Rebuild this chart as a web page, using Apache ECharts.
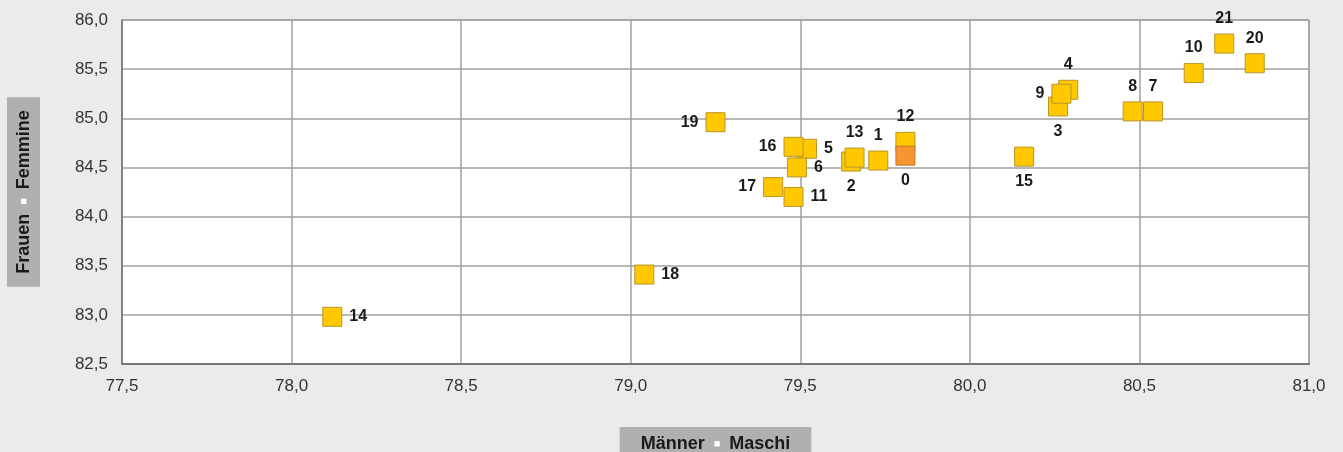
<!DOCTYPE html>
<html>
<head>
<meta charset="utf-8">
<script src="https://cdn.jsdelivr.net/npm/echarts@6/dist/echarts.min.js"></script>
<style>
html,body{margin:0;padding:0;background:#ebebeb;}
#c{width:1343px;height:452px;}
</style>
</head>
<body>
<div id="c"></div>
<script>
// Data (draw order: later items on top)
var pointLabels = ['14','18','19','17','11','5','16','6','2','13','1','12','15','3','4','9','8','7','10','21','20'];
var maleValues   = [78.12,79.04,79.25,79.42,79.48,79.52,79.48,79.49,79.65,79.66,79.73,79.81,80.16,80.26,80.29,80.27,80.48,80.54,80.66,80.75,80.84];
var femaleValues = [82.98,83.41,84.96,84.30,84.20,84.69,84.71,84.50,84.56,84.60,84.57,84.76,84.61,85.12,85.29,85.25,85.07,85.07,85.46,85.76,85.56];
var labelSides   = ['right','right','left','left','right','right','left','right','bottom','top','top','top','bottom','bottom','top','left','top','top','top','top','top'];
var refLabel = '0';
var refMale = 79.81;
var refFemale = 84.62;
var xTicks = {min:77.5, max:81.0, step:0.5};
var yTicks = {min:82.5, max:86.0, step:0.5};

var pts = pointLabels.map(function(l,i){
  return {value:[maleValues[i],femaleValues[i]], name:l, label:{position:labelSides[i]}};
});

var fmt = function(v){return v.toFixed(1).replace('.',',');};
var font = 'Liberation Sans, Arial, sans-serif';
var labelStyle = {show:true, formatter:function(p){return p.name;}, color:'#1a1a1a', fontSize:16, fontWeight:'bold', fontFamily:font, distance:7};
var titleRich = {
  a:{fontSize:18, fontWeight:'bold', color:'#1a1a1a', fontFamily:font},
  s:{fontSize:11, color:'#ffffff', padding:[0,9,0,9]}
};

var chart = echarts.init(document.getElementById('c'));
chart.setOption({
  backgroundColor:'#ebebeb',
  animation:false,
  grid:{left:122, right:34, top:20, bottom:88, containLabel:false, outerBoundsMode:'none',
    show:true, backgroundColor:'#ffffff', borderColor:'#888', borderWidth:1},
  xAxis:{
    type:'value', min:xTicks.min, max:xTicks.max, interval:xTicks.step,
    axisLine:{show:true, onZero:false, lineStyle:{color:'#777', width:2}},
    axisTick:{show:false},
    splitLine:{show:true, lineStyle:{color:'#a0a0a0', width:1.5}},
    axisLabel:{formatter:fmt, color:'#333', fontSize:17, fontFamily:font, margin:14},
    name:'{a|Männer}{s|■}{a|Maschi}', nameLocation:'middle', nameGap:63,
    nameTextStyle:{backgroundColor:'#b0b0b0', padding:[8,21,10,21], rich:titleRich}
  },
  yAxis:{
    type:'value', min:yTicks.min, max:yTicks.max, interval:yTicks.step,
    axisLine:{show:true, onZero:false, lineStyle:{color:'#777', width:1.5}},
    axisTick:{show:false},
    splitLine:{show:true, lineStyle:{color:'#a0a0a0', width:1.5}},
    axisLabel:{formatter:fmt, color:'#333', fontSize:17, fontFamily:font, margin:14},
    name:'{a|Frauen}{s|■}{a|Femmine}', nameLocation:'middle', nameGap:82, nameRotate:90,
    nameTextStyle:{backgroundColor:'#b0b0b0', padding:[8,13,7,13], rich:titleRich}
  },
  series:[
    {type:'scatter', symbol:'rect', symbolSize:19, data:pts,
      itemStyle:{color:'#ffc800', borderColor:'#b8962a', borderWidth:1, opacity:1},
      label:labelStyle, z:2},
    {type:'scatter', symbol:'rect', symbolSize:19, data:[{value:[refMale,refFemale], name:refLabel}],
      itemStyle:{color:'#f7962f', borderColor:'#c07a2a', borderWidth:1, opacity:1},
      label:Object.assign({}, labelStyle, {position:'bottom'}), z:3}
  ]
});
</script>
</body>
</html>
